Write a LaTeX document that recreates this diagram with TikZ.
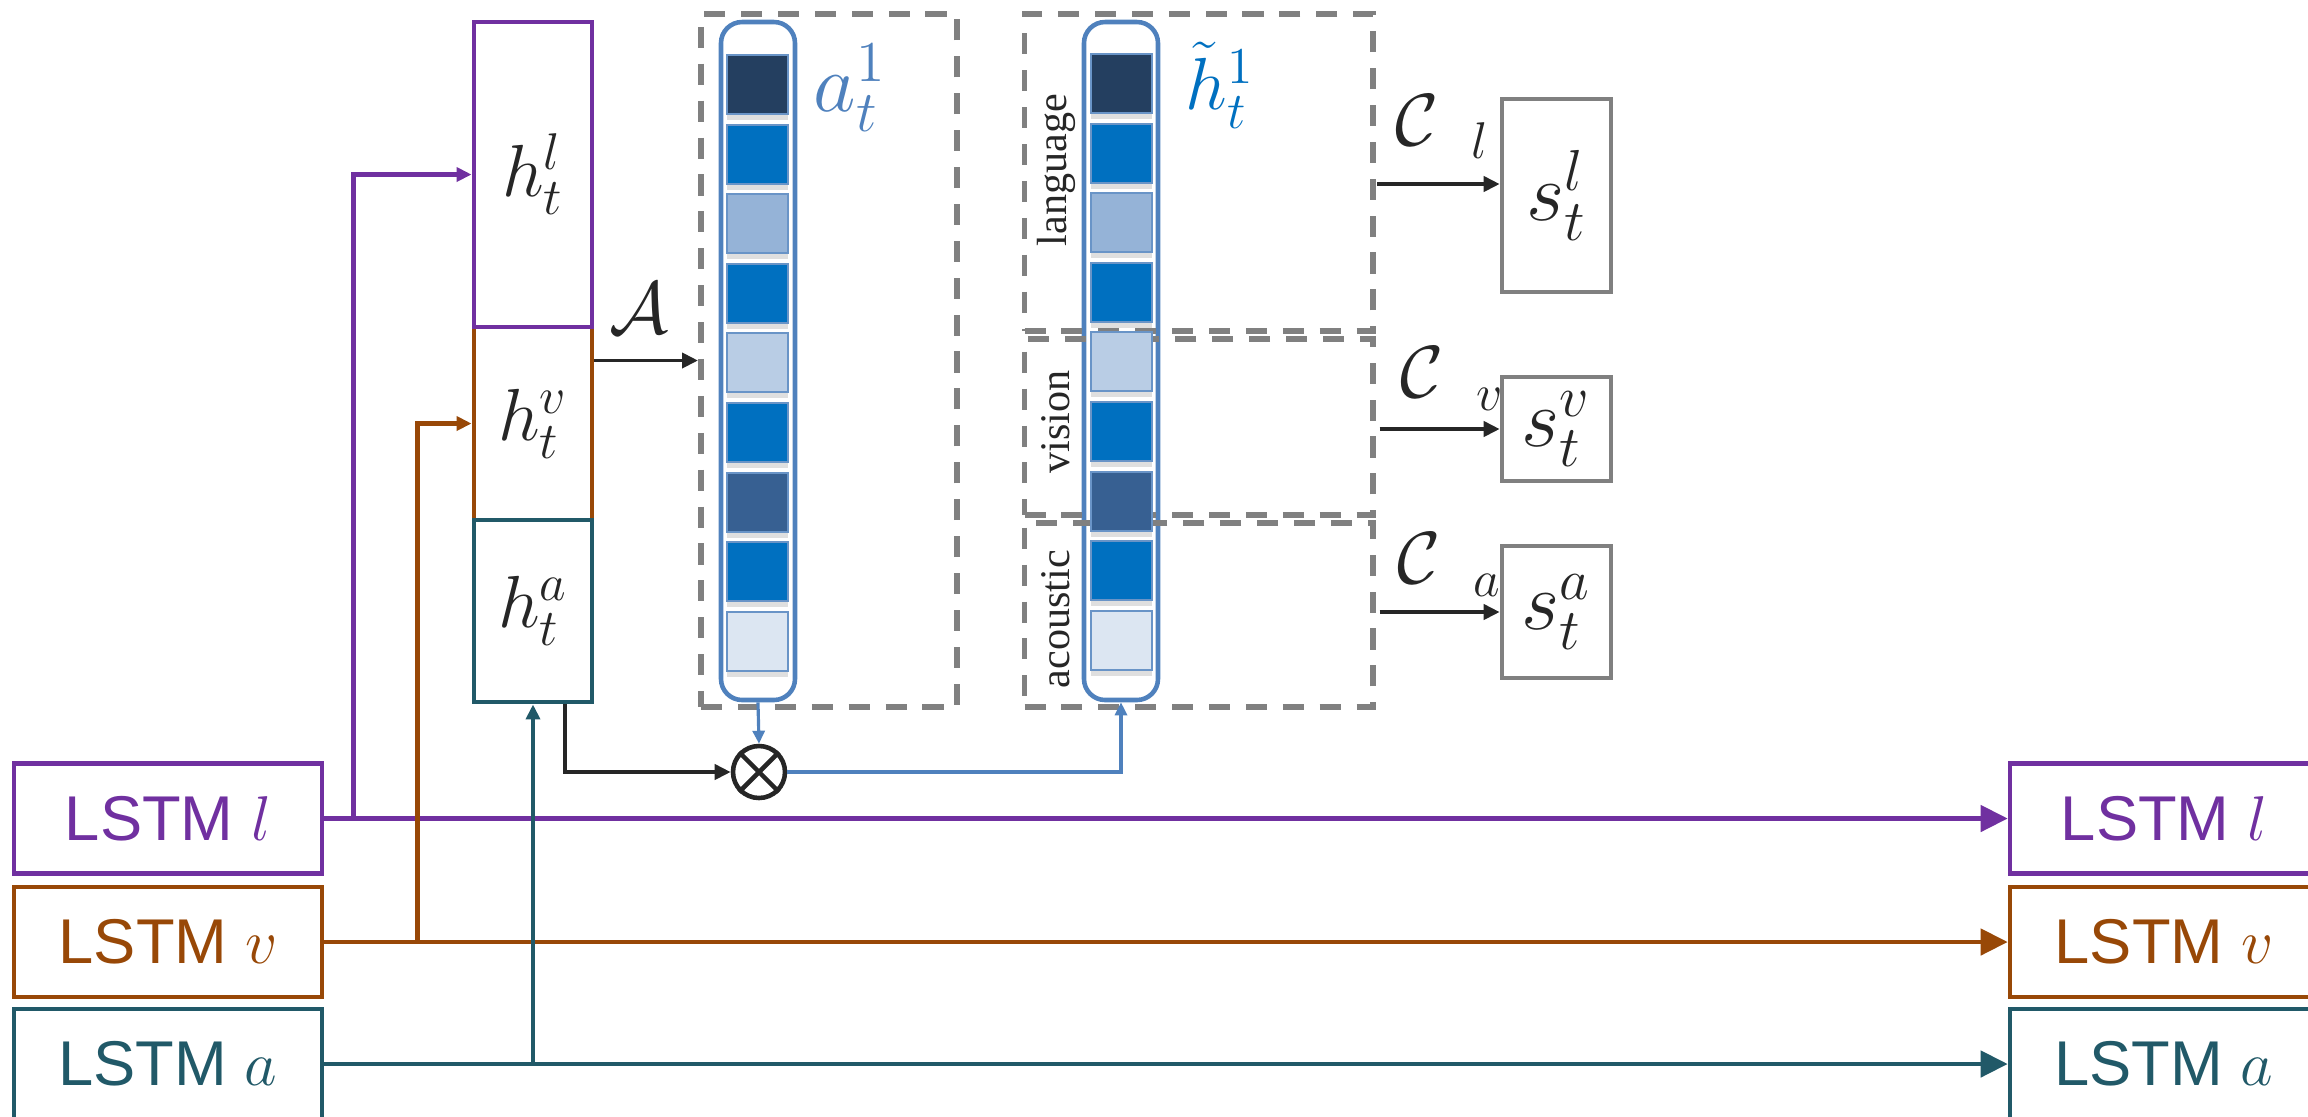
\RequirePackage{fix-cm}
\documentclass[tikz,border=0pt]{standalone}
\usepackage{fontspec}
\newfontfamily\lstmfont{Liberation Sans}
\newfontfamily\modfont{Liberation Serif}
\usetikzlibrary{arrows.meta,shadows}

\definecolor{lpurple}{HTML}{7030A0}
\definecolor{vorange}{HTML}{984807}
\definecolor{ateal}{HTML}{215968}
\definecolor{dgrey}{HTML}{808080}
\definecolor{vecblue}{HTML}{4F81BD}
\definecolor{txtblue}{HTML}{0070C0}
\definecolor{ink}{HTML}{262626}
\definecolor{sqa}{HTML}{243F60}
\definecolor{sqb}{HTML}{0070C0}
\definecolor{sqc}{HTML}{95B3D7}
\definecolor{sqd}{HTML}{B9CDE5}
\definecolor{sqe}{HTML}{376092}
\definecolor{sqf}{HTML}{DCE6F2}

\newcommand{\mbig}{\fontsize{21}{25}\selectfont}
\newcommand{\mbigger}{\fontsize{23.5}{28}\selectfont}
\newcommand{\clow}[1]{\raisebox{-0.18em}{$\scriptstyle #1$}}

\begin{document}
\begin{tikzpicture}[
	inner sep=0pt,
	lstmbox/.style={draw=#1, text=#1, line width=1.3pt, fill=white, minimum width=3.08cm, minimum height=1.1cm, font=\lstmfont\fontsize{18}{22}\selectfont},
	hbox/.style={draw=#1, line width=1.4pt, fill=white, minimum width=1.18cm, text=ink, font=\mbig},
	sbox/.style={draw=dgrey, line width=1.3pt, minimum width=1.09cm, text=ink, font=\mbigger},
	dashbox/.style={draw=dgrey, line width=1.7pt, dash pattern=on 6pt off 4.5pt},
	vecbar/.style={draw=vecblue, line width=1.3pt, rounded corners=6pt, minimum width=0.74cm, minimum height=6.78cm},
	vcell/.style={draw=vecblue!85!white, line width=0.6pt, minimum width=0.61cm, minimum height=0.59cm, drop shadow={shadow xshift=0pt, shadow yshift=-0.6mm, opacity=0.25}},
	modlab/.style={rotate=90, text=ink, font=\modfont\fontsize{12}{14}\selectfont},
	feedarrow/.style={line width=1.3pt, -{Triangle[length=0.15cm,width=0.14cm]}},
	lstmarrow/.style={line width=1.3pt, -{Triangle[length=0.27cm,width=0.26cm]}},
	inkarrow/.style={draw=ink, line width=1.1pt, -{Triangle[length=0.16cm,width=0.15cm]}},
	bluearrow/.style={draw=vecblue, line width=0.9pt, -{Triangle[length=0.13cm,width=0.12cm]}}
]
	\useasboundingbox (0,0) rectangle (23.08,-11.16);
	\clip (0,0) rectangle (23.08,-11.16);

	% LSTM cells, left and right
	\node[lstmbox=lpurple] (ll) at (1.68,-8.185) {LSTM $l$};
	\node[lstmbox=vorange] (vl) at (1.68,-9.42) {LSTM $v$};
	\node[lstmbox=ateal] (al) at (1.68,-10.64) {LSTM $a$};
	\node[lstmbox=lpurple] (lr) at (21.64,-8.185) {LSTM $l$};
	\node[lstmbox=vorange] (vr) at (21.64,-9.42) {LSTM $v$};
	\node[lstmbox=ateal] (ar) at (21.64,-10.64) {LSTM $a$};

	% hidden states
	\node[hbox=vorange, minimum height=1.93cm] (hv) at (5.33,-4.235) {$h_t^v$};
	\node[hbox=lpurple, minimum height=3.05cm] (hl) at (5.33,-1.745) {$h_t^l$};
	\node[hbox=ateal, minimum height=1.82cm] (ha) at (5.33,-6.11) {$h_t^a$};

	% attention and fused vectors
	\node[dashbox, minimum width=2.56cm, minimum height=6.93cm] (attn) at (8.29,-3.605) {};
	\node[vecbar] (veca) at (7.58,-3.61) {};
	\node[vecbar] (vech) at (11.21,-3.61) {};
	\node[dashbox, minimum width=3.485cm, minimum height=3.17cm] (lang) at (11.9875,-1.725) {};
	\node[dashbox, minimum width=3.485cm, minimum height=1.76cm] (vis) at (11.9875,-4.27) {};
	\node[dashbox, minimum width=3.485cm, minimum height=1.84cm] (aco) at (11.9875,-6.15) {};
	\foreach \c [count=\i] in {sqa,sqb,sqc,sqb,sqd,sqb,sqe,sqb,sqf} {
		\node[vcell, fill=\c] (a\i) at (7.575,{-0.845-0.696*(\i-1)}) {};
		\node[vcell, fill=\c] (h\i) at (11.215,{-0.835-0.696*(\i-1)}) {};
	}
	\node[text=vecblue, font=\mbigger] (alab) at (8.50,-0.88) {$a_t^1$};
	\node[text=txtblue, font=\mbig] (hlab) at (12.20,-0.85) {$\tilde{h}_t^1$};
	\node[modlab] (tlang) at (10.56,-1.70) {language};
	\node[modlab] (tvis) at (10.56,-4.22) {vision};
	\node[modlab] (taco) at (10.56,-6.19) {acoustic};

	% scores
	\node[sbox, minimum height=1.93cm] (sl) at (15.565,-1.955) {$s_t^l$};
	\node[sbox, minimum height=1.04cm] (sv) at (15.565,-4.29) {$s_t^v$};
	\node[sbox, minimum height=1.32cm] (sa) at (15.565,-6.12) {$s_t^a$};
	\node[anchor=base west, text=ink, font=\mbig] (cl) at (13.95,-1.45) {$\mathcal{C}\;\,\clow{l}$};
	\node[anchor=base west, text=ink, font=\mbig] (cv) at (14.00,-3.97) {$\mathcal{C}\;\,\clow{v}$};
	\node[anchor=base west, text=ink, font=\mbig] (ca) at (13.97,-5.83) {$\mathcal{C}\;\,\clow{a}$};
	\node[anchor=base west, text=ink, font=\mbig] (alabel) at (6.09,-3.33) {$\mathcal{A}$};

	\node[circle, draw=ink, line width=1.3pt, minimum size=0.52cm] (mul) at (7.59,-7.72) {};
	\draw[ink, line width=1.3pt] (mul.north west) -- (mul.south east) (mul.north east) -- (mul.south west);

	% connectors
	\coordinate (lj) at ([xshift=0.29cm]ll.east);
	\coordinate (vj) at ([xshift=0.93cm]vl.east);
	\coordinate (aj) at (ha.south |- al.east);
	\draw[lstmarrow, lpurple] (ll.east) -- (lr.west);
	\draw[lstmarrow, vorange] (vl.east) -- (vr.west);
	\draw[lstmarrow, ateal] (al.east) -- (ar.west);
	\draw[feedarrow, lpurple] (lj) |- (hl.west);
	\draw[feedarrow, vorange] (vj) |- (hv.west);
	\draw[feedarrow, ateal] (aj) -- (ha.south);

	\draw[inkarrow] ([xshift=0.32cm]ha.south) |- (mul.west);
	\draw[inkarrow] (hv.east |- attn.west) -- (attn.west);
	\draw[bluearrow] (veca.south) -- (mul.north);
	\draw[bluearrow] (mul.east) -| (vech.south);

	\coordinate (cj) at (13.77,-1.84);
	\draw[inkarrow] (cj) -- (cj -| sl.west);
	\draw[inkarrow] ([xshift=1pt]vis.east |- sv.west) -- (sv.west);
	\draw[inkarrow] ([xshift=1pt]aco.east |- sa.west) -- (sa.west);
\end{tikzpicture}
\end{document}
